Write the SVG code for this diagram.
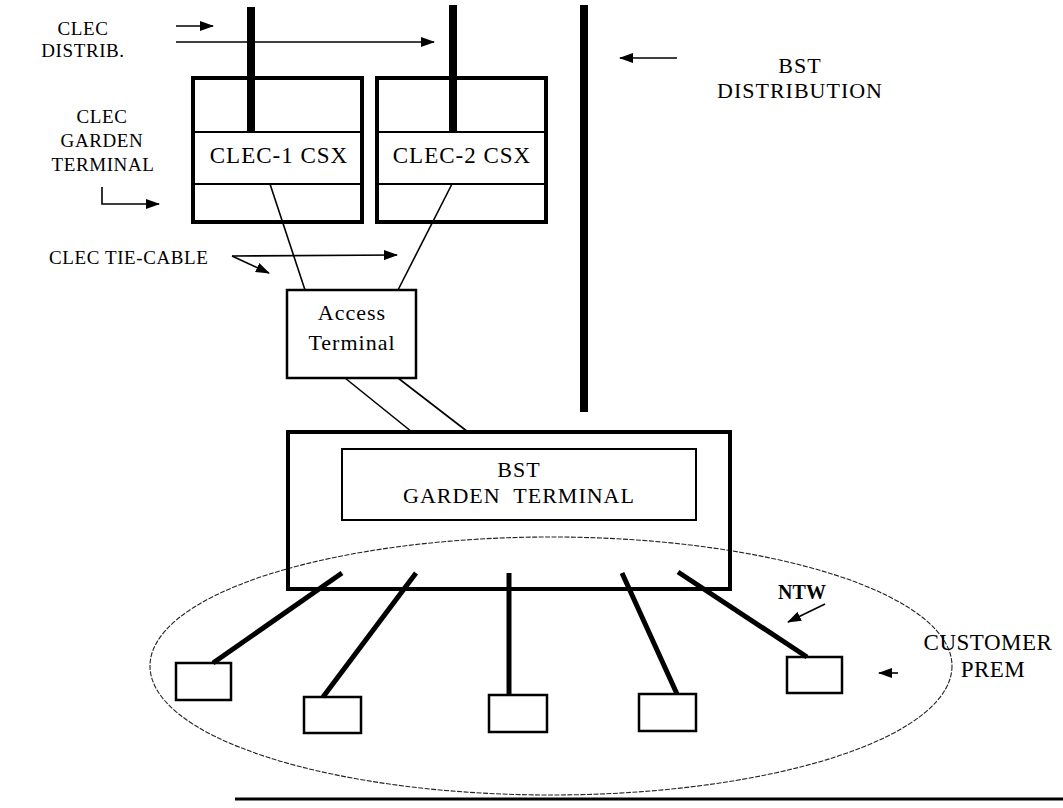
<svg xmlns="http://www.w3.org/2000/svg" width="1063" height="808" viewBox="0 0 1063 808">
<style>
text{font-family:"Liberation Serif","Times New Roman",serif;fill:#000}
.lbl{font-size:19px;letter-spacing:0.6px}
.big{font-size:22px;letter-spacing:1px}
.thick{fill:none;stroke:#000;stroke-width:4}
.thin{fill:none;stroke:#000;stroke-width:1.6}
.box{fill:#fff;stroke:#000;stroke-width:2.5}
.pole{stroke:#000;stroke-width:8;fill:none}
.drop{stroke:#000;stroke-width:5;fill:none}
.arr{stroke:#000;stroke-width:1.6;fill:none;marker-end:url(#ah)}
</style>
<defs>
<marker id="ah" markerUnits="userSpaceOnUse" markerWidth="14" markerHeight="10" refX="13" refY="5" orient="auto">
<path d="M0,0 L14,5 L0,10 z" fill="#000"/>
</marker>
</defs>
<rect width="1063" height="808" fill="#fff"/>

<g id="customer-prem-area">
<ellipse cx="551" cy="666" rx="401" ry="129" fill="none" stroke="#222" stroke-width="1.1" stroke-dasharray="5 1.5"/>
</g>

<g id="clec1-csx">
<rect x="193" y="78" width="169" height="144" class="thick"/>
<line x1="193" y1="132" x2="362" y2="132" stroke="#000" stroke-width="2"/>
<line x1="193" y1="184" x2="362" y2="184" stroke="#000" stroke-width="2"/>
<text x="279" y="163" text-anchor="middle" font-size="23" letter-spacing="1">CLEC-1 CSX</text>
</g>

<g id="clec2-csx">
<rect x="377" y="78" width="169" height="144" class="thick"/>
<line x1="377" y1="132" x2="546" y2="132" stroke="#000" stroke-width="2"/>
<line x1="377" y1="184" x2="546" y2="184" stroke="#000" stroke-width="2"/>
<text x="462" y="163" text-anchor="middle" font-size="23" letter-spacing="1">CLEC-2 CSX</text>
</g>

<g id="access-terminal">
<rect x="287" y="290" width="129" height="88" class="box" stroke-width="2"/>
<text x="352" y="320" text-anchor="middle" class="big">Access</text>
<text x="352" y="350" text-anchor="middle" class="big">Terminal</text>
</g>

<g id="bst-garden-terminal">
<rect x="288" y="432" width="442" height="157" class="thick"/>
<rect x="342" y="449" width="354" height="71" fill="none" stroke="#000" stroke-width="2"/>
<text x="519" y="477" text-anchor="middle" class="big">BST</text>
<text x="519" y="503" text-anchor="middle" class="big" xml:space="preserve">GARDEN  TERMINAL</text>
</g>

<g id="cust-1"><rect x="176" y="663" width="55" height="37" class="box"/></g>
<g id="cust-2"><rect x="304" y="697" width="57" height="36" class="box"/></g>
<g id="cust-3"><rect x="489" y="695" width="58" height="37" class="box"/></g>
<g id="cust-4"><rect x="639" y="694" width="57" height="37" class="box"/></g>
<g id="cust-5"><rect x="787" y="657" width="55" height="36" class="box"/></g>

<g id="connectors">
<line x1="251" y1="7" x2="251" y2="132" class="pole"/>
<line x1="453" y1="5" x2="453" y2="132" class="pole"/>
<line x1="584" y1="5" x2="584" y2="412" class="pole"/>
<line x1="270" y1="184" x2="305" y2="290" class="thin"/>
<line x1="452" y1="184" x2="398" y2="290" class="thin"/>
<line x1="345" y1="378" x2="412" y2="432" class="thin"/>
<line x1="398" y1="378" x2="468" y2="432" class="thin"/>
<line x1="342" y1="573" x2="213" y2="663" class="drop"/>
<line x1="416" y1="573" x2="323" y2="697" class="drop"/>
<line x1="509" y1="573" x2="509" y2="695" class="drop"/>
<line x1="622" y1="573" x2="677" y2="694" class="drop"/>
<line x1="678" y1="572" x2="807" y2="657" class="drop"/>
<line x1="235" y1="799" x2="1063" y2="799" stroke="#000" stroke-width="3"/>
</g>

<g id="annotations">
<text x="83" y="35" text-anchor="middle" class="lbl">CLEC</text>
<text x="83" y="57" text-anchor="middle" class="lbl">DISTRIB.</text>
<line x1="176" y1="26" x2="213" y2="26" class="arr"/>
<line x1="176" y1="42" x2="434" y2="42" class="arr"/>

<text x="102" y="123" text-anchor="middle" class="lbl">CLEC</text>
<text x="102" y="147" text-anchor="middle" class="lbl">GARDEN</text>
<text x="103" y="171" text-anchor="middle" class="lbl">TERMINAL</text>
<path d="M102,187 V204 H159" class="arr"/>

<text x="49" y="264" class="lbl">CLEC TIE-CABLE</text>
<line x1="232" y1="256" x2="397" y2="255" class="arr"/>
<line x1="232" y1="256" x2="269" y2="273" class="arr"/>

<line x1="677" y1="58" x2="620" y2="58" class="arr"/>
<text x="800" y="73" text-anchor="middle" class="big">BST</text>
<text x="800" y="98" text-anchor="middle" class="big">DISTRIBUTION</text>

<text x="802" y="599" text-anchor="middle" font-size="20" font-weight="bold">NTW</text>
<line x1="825" y1="604" x2="788" y2="622" class="arr"/>

<text x="988" y="650" text-anchor="middle" font-size="23" letter-spacing="0.5">CUSTOMER</text>
<text x="993" y="677" text-anchor="middle" font-size="23" letter-spacing="0.5">PREM</text>
<line x1="898" y1="673" x2="879" y2="673" class="arr"/>
</g>
</svg>
